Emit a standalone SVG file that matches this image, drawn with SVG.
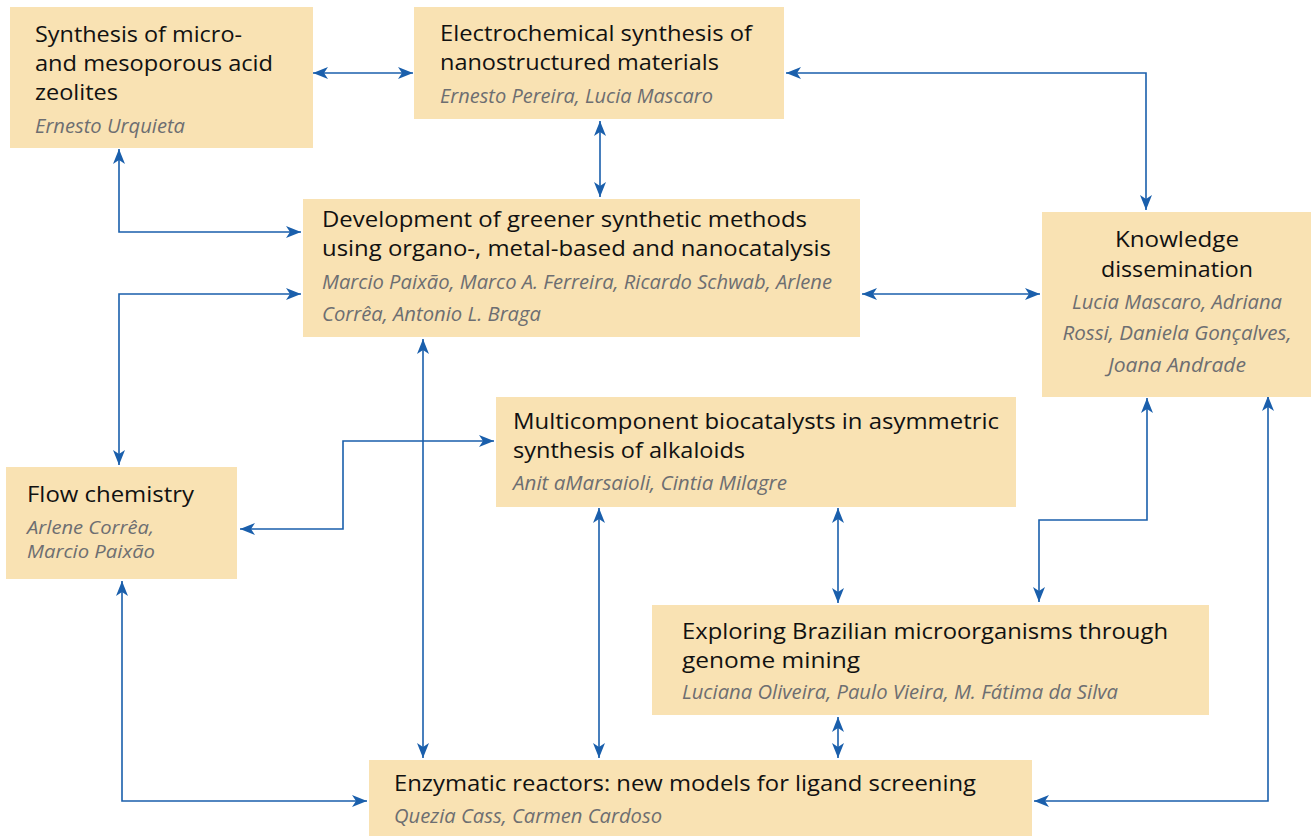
<svg xmlns="http://www.w3.org/2000/svg" width="1311" height="836" viewBox="0 0 1311 836">
<defs>
<style>
.box{fill:#f9e2b3}
.t{font-family:"Open Sans","Noto Sans",sans-serif;font-size:22.5px;fill:#111}
.a{font-family:"Open Sans","Noto Sans",sans-serif;font-size:19.5px;font-style:italic;fill:#6d6e71}
.s{font-size:18px}
.c{text-anchor:middle}
.ln{fill:none;stroke:#1a5fac;stroke-width:1.6;marker-start:url(#ah);marker-end:url(#ah)}
</style>
<marker id="ah" viewBox="0 0 15 12" refX="15" refY="6" markerWidth="15" markerHeight="12" markerUnits="userSpaceOnUse" orient="auto-start-reverse">
<path d="M0,0 L15,6 L0,12 L4,6 z" fill="#1a5fac"/>
</marker>
</defs>
<rect width="1311" height="836" fill="#fff"/>
<g id="connectors">
<path class="ln" d="M313,73 H413"/>
<path class="ln" d="M600,121 V197"/>
<path class="ln" d="M119,149 V232 H301"/>
<path class="ln" d="M786,73 H1146 V210"/>
<path class="ln" d="M862,294 H1040"/>
<path class="ln" d="M301,294 H119 V465"/>
<path class="ln" d="M423,339 V758"/>
<path class="ln" d="M240,529 H343 V441 H494"/>
<path class="ln" d="M599,508 V758"/>
<path class="ln" d="M838,508 V603"/>
<path class="ln" d="M1147,398 V520 H1039 V602"/>
<path class="ln" d="M838,717 V758"/>
<path class="ln" d="M1268,396 V801 H1034"/>
<path class="ln" d="M122,581 V801 H367"/>
</g>
<g id="zeolites">
<rect class="box" x="10" y="7" width="303" height="141"/>
<text class="t" x="35" y="42" textLength="207" lengthAdjust="spacingAndGlyphs">Synthesis of micro-</text>
<text class="t" x="35" y="71" textLength="238" lengthAdjust="spacingAndGlyphs">and mesoporous acid</text>
<text class="t" x="35" y="100" textLength="83" lengthAdjust="spacingAndGlyphs">zeolites</text>
<text class="a" x="35" y="133" textLength="150" lengthAdjust="spacingAndGlyphs">Ernesto Urquieta</text>
</g>
<g id="electrochemical">
<rect class="box" x="414" y="7" width="370" height="112"/>
<text class="t" x="440" y="41" textLength="312" lengthAdjust="spacingAndGlyphs">Electrochemical synthesis of</text>
<text class="t" x="440" y="70" textLength="279" lengthAdjust="spacingAndGlyphs">nanostructured materials</text>
<text class="a" x="440" y="103" textLength="273" lengthAdjust="spacingAndGlyphs">Ernesto Pereira, Lucia Mascaro</text>
</g>
<g id="greener">
<rect class="box" x="303" y="199" width="557" height="138"/>
<text class="t" x="322" y="227" textLength="485" lengthAdjust="spacingAndGlyphs">Development of greener synthetic methods</text>
<text class="t" x="322" y="256" textLength="509" lengthAdjust="spacingAndGlyphs">using organo-, metal-based and nanocatalysis</text>
<text class="a" x="322" y="289" textLength="510" lengthAdjust="spacingAndGlyphs">Marcio Paixão, Marco A. Ferreira, Ricardo Schwab, Arlene</text>
<text class="a" x="322" y="321" textLength="219" lengthAdjust="spacingAndGlyphs">Corrêa, Antonio L. Braga</text>
</g>
<g id="knowledge">
<rect class="box" x="1042" y="212" width="269" height="185"/>
<text class="t c" x="1177" y="247" textLength="124" lengthAdjust="spacingAndGlyphs">Knowledge</text>
<text class="t c" x="1177" y="277" textLength="152" lengthAdjust="spacingAndGlyphs">dissemination</text>
<text class="a c" x="1177" y="309" textLength="210" lengthAdjust="spacingAndGlyphs">Lucia Mascaro, Adriana</text>
<text class="a c" x="1177" y="340" textLength="229" lengthAdjust="spacingAndGlyphs">Rossi, Daniela Gonçalves,</text>
<text class="a c" x="1177" y="372" textLength="138" lengthAdjust="spacingAndGlyphs">Joana Andrade</text>
</g>
<g id="flow">
<rect class="box" x="6" y="467" width="231" height="112"/>
<text class="t" x="27" y="502" textLength="167" lengthAdjust="spacingAndGlyphs">Flow chemistry</text>
<text class="a s" x="27" y="534" textLength="127" lengthAdjust="spacingAndGlyphs">Arlene Corrêa,</text>
<text class="a s" x="27" y="558" textLength="128" lengthAdjust="spacingAndGlyphs">Marcio Paixão</text>
</g>
<g id="multicomponent">
<rect class="box" x="496" y="397" width="520" height="110"/>
<text class="t" x="513" y="429" textLength="486" lengthAdjust="spacingAndGlyphs">Multicomponent biocatalysts in asymmetric</text>
<text class="t" x="513" y="458" textLength="232" lengthAdjust="spacingAndGlyphs">synthesis of alkaloids</text>
<text class="a" x="513" y="490" textLength="274" lengthAdjust="spacingAndGlyphs">Anit aMarsaioli, Cintia Milagre</text>
</g>
<g id="exploring">
<rect class="box" x="652" y="605" width="557" height="110"/>
<text class="t" x="682" y="639" textLength="486" lengthAdjust="spacingAndGlyphs">Exploring Brazilian microorganisms through</text>
<text class="t" x="682" y="668" textLength="178" lengthAdjust="spacingAndGlyphs">genome mining</text>
<text class="a" x="682" y="699" textLength="436" lengthAdjust="spacingAndGlyphs">Luciana Oliveira, Paulo Vieira, M. Fátima da Silva</text>
</g>
<g id="enzymatic">
<rect class="box" x="369" y="760" width="663" height="76"/>
<text class="t" x="394" y="791" textLength="582" lengthAdjust="spacingAndGlyphs">Enzymatic reactors: new models for ligand screening</text>
<text class="a" x="394" y="823" textLength="268" lengthAdjust="spacingAndGlyphs">Quezia Cass, Carmen Cardoso</text>
</g>
</svg>
